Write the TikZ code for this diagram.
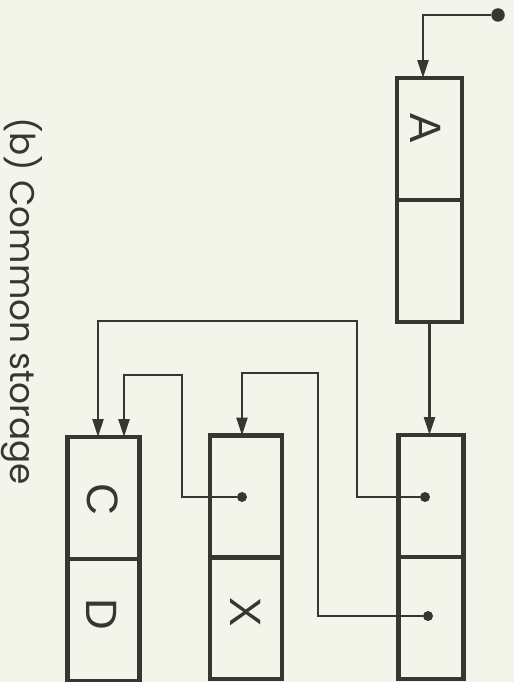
\documentclass[tikz,border=0pt]{standalone}
\usepackage{fontspec}
\setmainfont{Liberation Sans}
\newfontfamily\captionfont{Poppins}
\usetikzlibrary{positioning,arrows.meta}
\definecolor{paper}{RGB}{243,245,234}
\definecolor{ink}{RGB}{55,55,50}

\begin{document}
\begin{tikzpicture}[x=0.02cm,y=-0.02cm,
    cell/.style={draw=ink,line width=2.3pt,rectangle,inner sep=0pt,outer sep=0pt,
        minimum width=1.3cm,minimum height=2.44cm},
    widecell/.style={cell,minimum width=1.44cm},
    letter/.style={text=ink,rotate=-90,inner sep=0pt,font=\fontsize{25}{25}\selectfont},
    dot/.style={circle,fill=ink,inner sep=0pt,minimum size=0.2cm},
    link/.style={draw=ink,line width=1.5pt,-{Triangle[length=0.36cm,width=0.22cm]}}]

% Paper and page size
\fill[paper] (0,0) rectangle (514,682);
\useasboundingbox (0,0) rectangle (514,682);

% Cells
\node[cell] (a1) at (429.5,139) {};
\node[cell,below=0pt of a1] (a2) {};
\node[cell] (r1) at (431,496) {};
\node[cell,below=0pt of r1] (r2) {};
\node[widecell] (x1) at (246,496.5) {};
\node[widecell,below=0pt of x1] (x2) {};
\node[widecell] (c1) at (103.5,498) {};
\node[widecell,below=0pt of c1] (d1) {};

% Contents
\node[letter] (la) at (426,128) {A};
\node[letter] (lc) at (103,499) {C};
\node[letter] (ld) at (102,614) {D};
\node[letter] (lx) at (246,612) {X};

% Pointers
\node[dot,minimum size=0.27cm] (s) at (498,15) {};
\node[dot] (p1) at (425,497) {};
\node[dot] (p2) at (428,616) {};
\node[dot] (q) at (242,497) {};

\draw[link] (s) -| ([xshift=-0.13cm]a1.north);
\draw[link] (a2.south) -- (a2.south |- r1.north);
\draw[link] (p1) -| (357,321) -| ([xshift=-0.11cm]c1.north);
\draw[link] (p2) -| (318,373) -| ([xshift=-0.08cm]x1.north);
\draw[link] (q) -| (182,375) -| ([xshift=0.41cm]c1.north);

% Caption
\node[text=ink,rotate=-90,font=\captionfont\fontsize{19.5}{19.5}\selectfont] (cap) at (22,301) {(b) Common storage};

\end{tikzpicture}
\end{document}
